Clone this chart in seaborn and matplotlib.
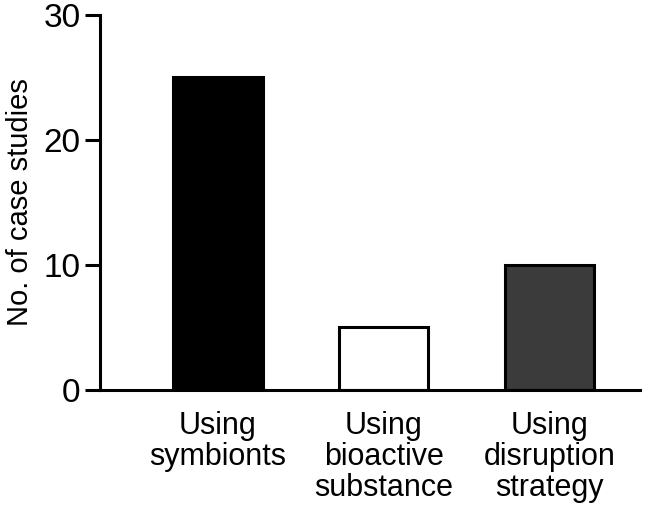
import matplotlib.pyplot as plt
import matplotlib
import pandas as pd
import seaborn as sns

categories = ['Using\nsymbionts', 'Using\nbioactive\nsubstance', 'Using\ndisruption\nstrategy']
counts = [25, 5, 10]
colors = ['#000000', '#ffffff', '#3b3b3b']

sns.set_style('ticks')
plt.rcParams['font.family'] = ['Liberation Sans', 'DejaVu Sans']
plt.rcParams['text.color'] = 'black'
plt.rcParams['axes.labelcolor'] = 'black'
plt.rcParams['xtick.color'] = 'black'
plt.rcParams['ytick.color'] = 'black'

data = pd.DataFrame({'cat': categories, 'n': counts})

fig = plt.figure(figsize=(6.7, 5.17), dpi=100)
ax = fig.add_axes([0.149, 0.246, 0.806, 0.725])

sns.barplot(data=data, x='cat', y='n', hue='cat', palette=colors, legend=False,
            width=0.54, edgecolor='black', linewidth=2.2, ax=ax)

ax.set_xlim(-0.712, 2.546)
ax.set_ylim(0, 30)
ax.set_yticks([0, 10, 20, 30])
ax.set_xlabel('')
ax.set_ylabel('No. of case studies', fontsize=21, labelpad=7)
ax.tick_params(axis='y', labelsize=24, width=2.2, length=11, pad=3, direction='out')
ax.tick_params(axis='x', labelsize=22, length=0, pad=15)
for lab in ax.get_xticklabels():
    lab.set_linespacing(1.05)
for s in ['left', 'bottom']:
    ax.spines[s].set_linewidth(2.2)
    ax.spines[s].set_color('black')
sns.despine(ax=ax)

fig.savefig('out.png', dpi=100)
